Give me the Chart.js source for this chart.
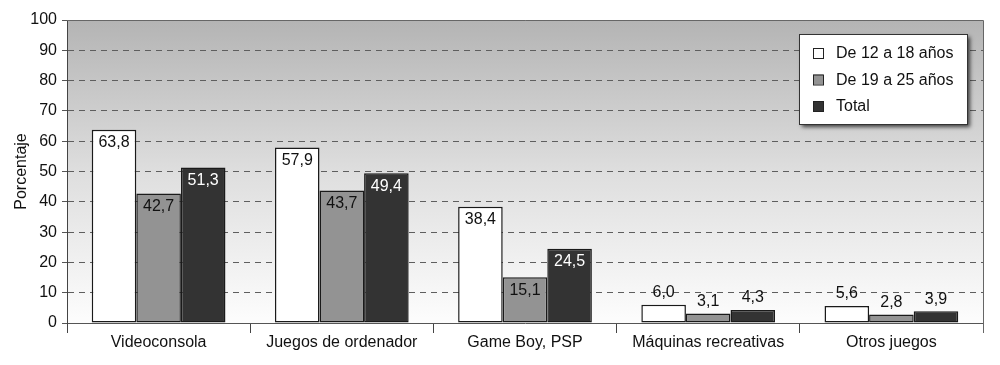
<!DOCTYPE html>
<html>
<head>
<meta charset="utf-8">
<script src="https://cdn.jsdelivr.net/npm/chart.js@4/dist/chart.umd.min.js"></script>
<style>
  html, body { margin: 0; padding: 0; background: #ffffff; overflow: hidden; }
  canvas { display: block; }
</style>
</head>
<body>
<canvas id="c" width="1000" height="365"></canvas>
<script>
const categories = ["Videoconsola", "Juegos de ordenador", "Game Boy, PSP", "Máquinas recreativas", "Otros juegos"];
const seriesNames = ["De 12 a 18 años", "De 19 a 25 años", "Total"];
const age12to18 = [63.8, 57.9, 38.4, 6.0, 5.6];
const age19to25 = [42.7, 43.7, 15.1, 3.1, 2.8];
const total = [51.3, 49.4, 24.5, 4.3, 3.9];
const yTicks = [0, 10, 20, 30, 40, 50, 60, 70, 80, 90, 100];
const yTitle = "Porcentaje";

const FONT = "'Liberation Sans', Arial, Helvetica, sans-serif";
const fillColors = ["#ffffff", "#939393", "#333333"];

const bgPlugin = {
  id: "bgPlugin",
  beforeDraw(chart) {
    const { ctx, chartArea: a } = chart;
    const g = ctx.createLinearGradient(0, a.top, 0, a.bottom);
    g.addColorStop(0, "#b4b4b4");
    g.addColorStop(0.5, "#dedede");
    g.addColorStop(1, "#fdfdfd");
    ctx.save();
    ctx.fillStyle = g;
    ctx.fillRect(a.left, a.top, a.right - a.left, a.bottom - a.top);
    ctx.restore();
  },
  afterDraw(chart) {
    const { ctx, chartArea: a } = chart;
    ctx.save();
    ctx.strokeStyle = "#666666";
    ctx.lineWidth = 1;
    ctx.beginPath();
    ctx.moveTo(a.left, a.top + 0.5);
    ctx.lineTo(a.right + 0.5, a.top + 0.5);
    ctx.lineTo(a.right + 0.5, a.bottom + 10);
    ctx.stroke();
    ctx.restore();
  }
};

const labelPlugin = {
  id: "labelPlugin",
  afterDatasetsDraw(chart) {
    const { ctx } = chart;
    ctx.save();
    ctx.font = "16px " + FONT;
    ctx.textAlign = "center";
    ctx.textBaseline = "middle";
    chart.data.datasets.forEach((ds, di) => {
      const meta = chart.getDatasetMeta(di);
      meta.data.forEach((bar, i) => {
        const v = ds.data[i];
        const txt = v.toFixed(1).replace(".", ",");
        let y, color;
        if (v >= 10) {
          y = bar.y + 13;
          color = di === 2 ? "#ffffff" : "#111111";
        } else {
          y = bar.y - 12;
          color = "#111111";
        }
        ctx.fillStyle = color;
        ctx.fillText(txt, bar.x, y);
      });
    });
    ctx.restore();
  }
};

const legendPlugin = {
  id: "legendPlugin",
  afterDraw(chart) {
    const { ctx } = chart;
    const x0 = 799, y0 = 34, w = 168, h = 90;
    ctx.save();
    ctx.shadowColor = "rgba(0,0,0,0.7)";
    ctx.shadowBlur = 4;
    ctx.shadowOffsetX = 3;
    ctx.shadowOffsetY = 3;
    ctx.fillStyle = "#ffffff";
    ctx.fillRect(x0, y0, w, h);
    ctx.restore();
    ctx.save();
    ctx.strokeStyle = "#333333";
    ctx.lineWidth = 1;
    ctx.strokeRect(x0 + 0.5, y0 + 0.5, w, h);
    ctx.font = "16px " + FONT;
    ctx.textBaseline = "middle";
    ctx.textAlign = "left";
    chart.data.datasets.forEach((ds, di) => {
      const cy = 53 + di * 26.5;
      ctx.fillStyle = ds.backgroundColor;
      ctx.fillRect(813, cy - 5, 10, 10);
      ctx.strokeStyle = "#222222";
      ctx.strokeRect(813.5, cy - 4.5, 10, 10);
      ctx.fillStyle = "#111111";
      ctx.fillText(ds.label, 836, cy + 1);
    });
    ctx.restore();
  }
};

new Chart(document.getElementById("c"), {
  type: "bar",
  data: {
    labels: categories,
    datasets: [
      { label: seriesNames[0], data: age12to18, backgroundColor: fillColors[0] },
      { label: seriesNames[1], data: age19to25, backgroundColor: fillColors[1] },
      { label: seriesNames[2], data: total, backgroundColor: fillColors[2] }
    ].map(d => Object.assign(d, { borderColor: "#1a1a1a", borderWidth: 1.5, borderSkipped: false,
      categoryPercentage: 0.73, barPercentage: 1.0 }))
  },
  options: {
    responsive: false,
    animation: false,
    events: [],
    layout: { padding: { top: 20, right: 17, left: 0, bottom: 0 } },
    plugins: { legend: { display: false }, tooltip: { enabled: false } },
    scales: {
      x: {
        afterFit(s) { s.height = 42; },
        grid: { offset: true, drawOnChartArea: false, drawTicks: true, tickLength: 10, color: "#444444", lineWidth: 1 },
        border: { display: true, color: "#555555", width: 1 },
        ticks: { color: "#111111", font: { family: FONT, size: 16 }, padding: 0, maxRotation: 0, autoSkip: false }
      },
      y: {
        min: 0, max: 100,
        afterFit(s) { s.width = 67; },
        afterBuildTicks(s) { s.ticks = yTicks.map(v => ({ value: v })); },
        grid: {
          color: ctx => (ctx.tick && (ctx.tick.value === 0 || ctx.tick.value === 100)) ? "rgba(0,0,0,0)" : "#5e5e5e",
          tickColor: "#555555",
          lineWidth: 1,
          tickLength: 5,
          tickBorderDash: [],
          drawTicks: true
        },
        border: { display: true, color: "#444444", width: 1, dash: [6, 5] },
        ticks: { color: "#111111", font: { family: FONT, size: 16 }, padding: 5 },
        title: { display: true, text: yTitle, color: "#111111", font: { family: FONT, size: 16 }, padding: { top: 12, bottom: 0 } }
      }
    }
  },
  plugins: [bgPlugin, labelPlugin, legendPlugin]
});
</script>
</body>
</html>
